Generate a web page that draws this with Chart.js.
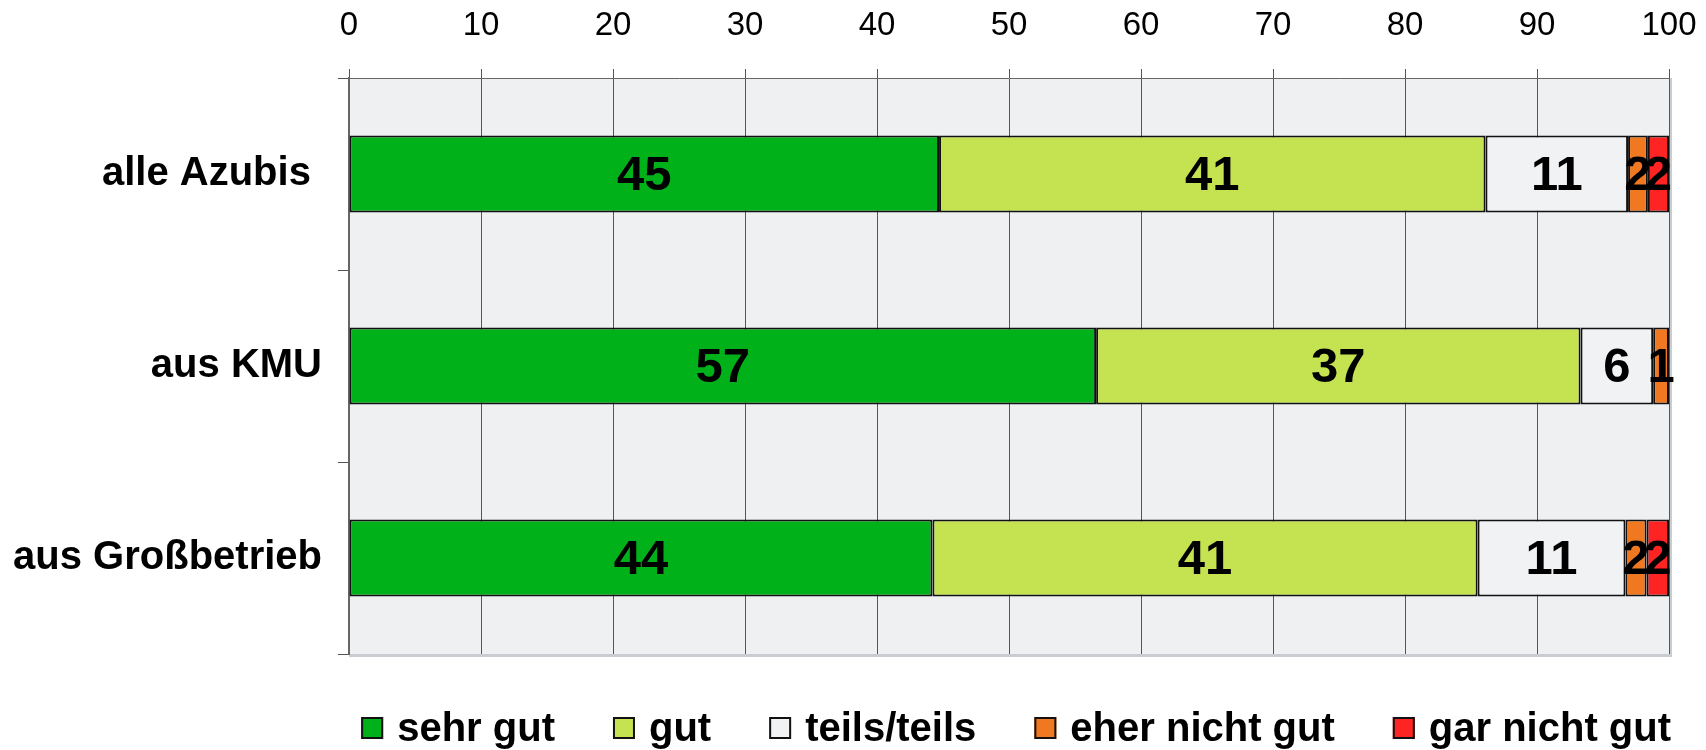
<!DOCTYPE html>
<html>
<head>
<meta charset="utf-8">
<script src="https://cdn.jsdelivr.net/npm/chart.js@4/dist/chart.umd.min.js"></script>
<style>
    html, body { margin: 0; padding: 0; background: #ffffff; }
    #wrap { width: 1706px; height: 750px; }
</style>
</head>
<body>
<div id="wrap"><canvas id="myChart" width="1706" height="750"></canvas></div>
<script>
const categories = ['alle Azubis ', 'aus KMU', 'aus Großbetrieb'];
const seriesNames = ['sehr gut', 'gut', 'teils/teils', 'eher nicht gut', 'gar nicht gut'];

const sehrGut   = [44.7, 56.6, 44.2];
const gut       = [41.4, 36.7, 41.3];
const teils     = [10.8, 5.5, 11.2];
const eherNicht = [1.5, 1.2, 1.6];
const garNicht  = [1.6, null, 1.7];

const xMin = 0;
const xMax = 100;
const xStep = 10;

const fontFamily = '"Liberation Sans", Arial, Helvetica, sans-serif';
const colors = ['#00b11a', '#c5e350', '#f1f2f4', '#f07820', '#ff2424'];

// grey plot background + little shadow on right/bottom
const plotBackground = {
    id: 'plotBackground',
    beforeDraw(chart) {
        const {ctx, chartArea: a} = chart;
        ctx.save();
        ctx.fillStyle = '#c9ccd1';
        ctx.fillRect(a.left, a.top, a.right - a.left + 3, a.bottom - a.top + 3);
        ctx.fillStyle = '#eff0f2';
        ctx.fillRect(a.left, a.top, a.right - a.left, a.bottom - a.top);
        ctx.restore();
    }
};

// numbers inside the bars
const barLabels = {
    id: 'barLabels',
    afterDatasetsDraw(chart) {
        const ctx = chart.ctx;
        ctx.save();
        ctx.font = 'bold 49px ' + fontFamily;
        ctx.fillStyle = '#000';
        ctx.textAlign = 'center';
        ctx.textBaseline = 'middle';
        chart.data.datasets.forEach((ds, i) => {
            chart.getDatasetMeta(i).data.forEach((bar, j) => {
                const v = ds.data[j];
                if (v === null || v === undefined) return;
                const p = bar.getCenterPoint();
                ctx.fillText(String(Math.round(v)), p.x, p.y + 2);
            });
        });
        ctx.restore();
    }
};

// legend drawn by hand so the spacing can match
const bottomLegend = {
    id: 'bottomLegend',
    afterDraw(chart) {
        const {ctx, chartArea: a} = chart;
        ctx.save();
        ctx.font = 'bold 40px ' + fontFamily;
        ctx.textBaseline = 'middle';
        ctx.textAlign = 'left';
        const box = 22, textGap = 14, gap = 58;
        const items = chart.data.datasets.map(ds => ({
            text: ds.label,
            fill: ds.backgroundColor,
            w: box + textGap + ctx.measureText(ds.label).width
        }));
        const total = items.reduce((s, it) => s + it.w, 0) + gap * (items.length - 1);
        let x = a.right + 2 - total;
        const y = chart.height - 22;
        items.forEach(it => {
            ctx.fillStyle = it.fill;
            ctx.fillRect(x, y - box / 2, box, box);
            ctx.lineWidth = 2;
            ctx.strokeStyle = '#111';
            ctx.strokeRect(x + 1, y - box / 2 + 1, box - 2, box - 2);
            ctx.fillStyle = '#000';
            ctx.fillText(it.text, x + box + textGap, y + 2);
            x += it.w + gap;
        });
        ctx.restore();
    }
};

const allSeries = [sehrGut, gut, teils, eherNicht, garNicht];

const ctx = document.getElementById('myChart');
const myChart = new Chart(ctx, {
    type: 'bar',
    data: {
        labels: categories,
        datasets: allSeries.map((values, i) => ({
            label: seriesNames[i],
            data: values,
            backgroundColor: colors[i],
            borderColor: '#111111',
            borderWidth: 2,
            borderSkipped: false,
            barPercentage: 0.4,
            categoryPercentage: 1.0
        }))
    },
    options: {
        indexAxis: 'y',
        responsive: false,
        animation: false,
        layout: {
            padding: { left: 0, top: 0, right: 37, bottom: 96 }
        },
        scales: {
            x: {
                position: 'top',
                stacked: true,
                min: xMin,
                max: xMax,
                ticks: {
                    stepSize: xStep,
                    color: '#000',
                    padding: 23,
                    font: { family: fontFamily, size: 33 }
                },
                grid: {
                    color: '#555555',
                    lineWidth: 1,
                    tickLength: 9
                },
                border: { color: '#666666', width: 1 },
                afterFit(scale) {
                    scale.height = 78;
                    scale.paddingLeft = 0;
                    scale.paddingRight = 0;
                }
            },
            y: {
                stacked: true,
                ticks: {
                    color: '#000',
                    padding: 16,
                    font: { family: fontFamily, size: 40, weight: 'bold' }
                },
                grid: {
                    drawOnChartArea: false,
                    color: '#555555',
                    tickLength: 11
                },
                border: { color: '#666666', width: 2 },
                afterFit(scale) { scale.width = 349; }
            }
        },
        plugins: {
            legend: { display: false },
            tooltip: { enabled: false }
        }
    },
    plugins: [plotBackground, barLabels, bottomLegend]
});
</script>
</body>
</html>
